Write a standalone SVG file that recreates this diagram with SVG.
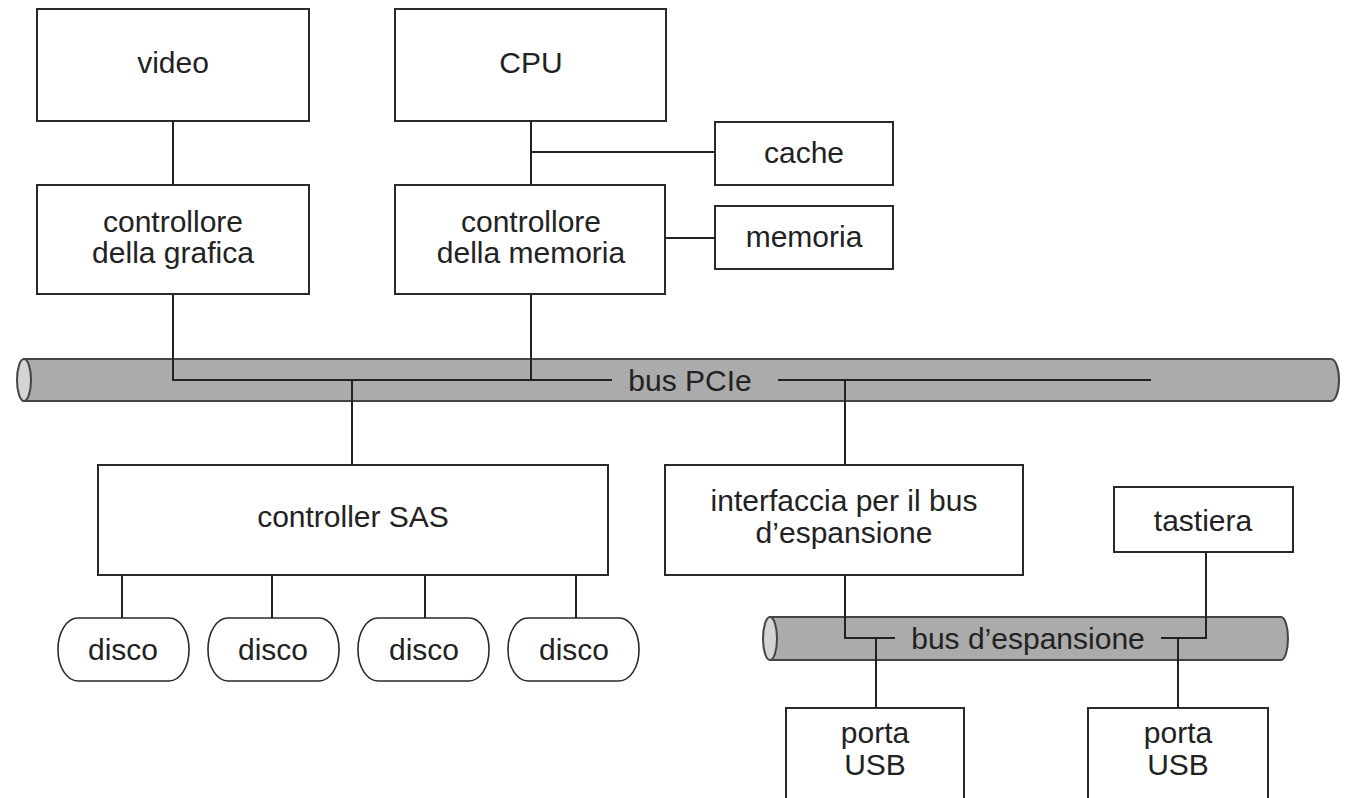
<svg xmlns="http://www.w3.org/2000/svg" width="1345" height="798" viewBox="0 0 1345 798">
<style>
.box{fill:#fff;stroke:#2a2a2a;stroke-width:2}
.disk{fill:#fff;stroke:#2a2a2a;stroke-width:1.6}
.bus{fill:#ababab;stroke:#444;stroke-width:2}
.end{fill:#d4d4d4;stroke:#444;stroke-width:2}
.t{font-family:"Liberation Sans",Arial,Helvetica,sans-serif;font-size:30px;fill:#222;text-anchor:middle}
.c{fill:none;stroke:#222;stroke-width:2}
</style>
<rect width="1345" height="798" fill="#fff"/>
<g id="bus-pcie">
<path class="bus" d="M24,359 H1331 A8,21 0 0 1 1331,401 H24 Z"/>
<ellipse class="end" cx="24" cy="380" rx="7" ry="21"/>
</g>
<g id="bus-esp">
<path class="bus" d="M770,617 H1281 A7,21.5 0 0 1 1281,660 H770 Z"/>
<ellipse class="end" cx="770" cy="638.5" rx="7" ry="21.5"/>
</g>
<g id="connectors">
<path class="c" d="M173,121 V185"/>
<path class="c" d="M531,121 V185"/>
<path class="c" d="M531,152 H715"/>
<path class="c" d="M665,238 H715"/>
<path class="c" d="M173,294 V380 H612"/>
<path class="c" d="M531,294 V380"/>
<path class="c" d="M778,380 H1151"/>
<path class="c" d="M352,380 V465"/>
<path class="c" d="M845,380 V465"/>
<path class="c" d="M122,575 V618"/>
<path class="c" d="M272,575 V618"/>
<path class="c" d="M425,575 V618"/>
<path class="c" d="M576,575 V618"/>
<path class="c" d="M845,575 V638 H895"/>
<path class="c" d="M1161,638 H1206 V552"/>
<path class="c" d="M876,638 V708"/>
<path class="c" d="M1178,638 V708"/>
</g>
<text class="t" x="690" y="391">bus PCIe</text>
<text class="t" x="1028" y="649">bus d’espansione</text>
<g id="video"><rect class="box" x="37" y="9" width="272" height="112"/><text class="t" x="173" y="73">video</text></g>
<g id="cpu"><rect class="box" x="395" y="9" width="271" height="112"/><text class="t" x="531" y="73">CPU</text></g>
<g id="cache"><rect class="box" x="715" y="122" width="178" height="63"/><text class="t" x="804" y="163">cache</text></g>
<g id="grafica"><rect class="box" x="37" y="185" width="272" height="109"/><text class="t" x="173" y="232">controllore</text><text class="t" x="173" y="263">della grafica</text></g>
<g id="memctrl"><rect class="box" x="395" y="185" width="270" height="109"/><text class="t" x="531" y="232">controllore</text><text class="t" x="531" y="263">della memoria</text></g>
<g id="memoria"><rect class="box" x="715" y="206" width="178" height="63"/><text class="t" x="804" y="247">memoria</text></g>
<g id="sas"><rect class="box" x="98" y="465" width="510" height="110"/><text class="t" x="353" y="527">controller SAS</text></g>
<g id="interfaccia"><rect class="box" x="665" y="465" width="358" height="110"/><text class="t" x="844" y="511">interfaccia per il bus</text><text class="t" x="844" y="543">d’espansione</text></g>
<g id="tastiera"><rect class="box" x="1114" y="487" width="179" height="65"/><text class="t" x="1203" y="531">tastiera</text></g>
<g id="disco1"><rect class="disk" x="58" y="618" width="131" height="63" rx="20" ry="31"/><text class="t" x="123" y="660">disco</text></g>
<g id="disco2"><rect class="disk" x="208" y="618" width="131" height="63" rx="20" ry="31"/><text class="t" x="273" y="660">disco</text></g>
<g id="disco3"><rect class="disk" x="358" y="618" width="131" height="63" rx="20" ry="31"/><text class="t" x="424" y="660">disco</text></g>
<g id="disco4"><rect class="disk" x="508" y="618" width="131" height="63" rx="20" ry="31"/><text class="t" x="574" y="660">disco</text></g>
<g id="usb1"><rect class="box" x="786" y="708" width="178" height="100"/><text class="t" x="875" y="743">porta</text><text class="t" x="875" y="775">USB</text></g>
<g id="usb2"><rect class="box" x="1088" y="708" width="180" height="100"/><text class="t" x="1178" y="743">porta</text><text class="t" x="1178" y="775">USB</text></g>
</svg>
